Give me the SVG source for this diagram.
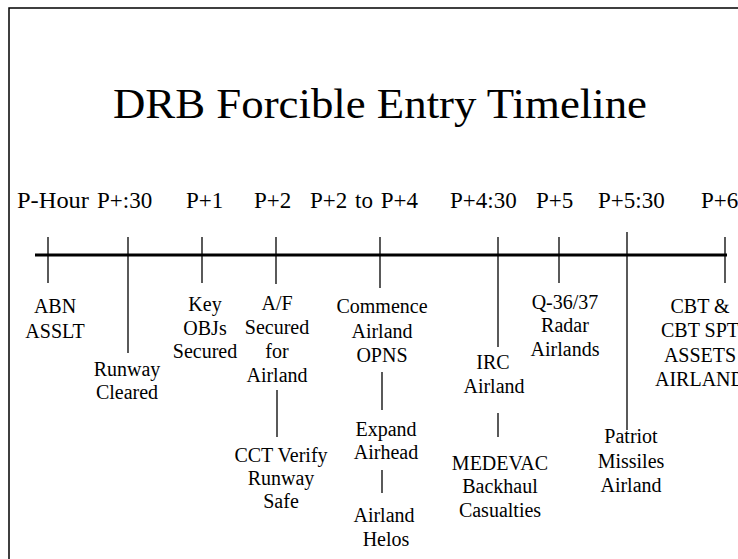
<svg xmlns="http://www.w3.org/2000/svg" width="738" height="559" viewBox="0 0 738 559">
<style>
  text { font-family: "Liberation Serif", "Times New Roman", serif; fill: #000; }
  .title { font-size: 42px; }
  .time { font-size: 23px; }
  .lbl { font-size: 20px; text-anchor: middle; }
  .frame { stroke: #000; stroke-width: 1.5; fill: none; }
  .axis { stroke: #000; stroke-width: 3; fill: none; }
  .tick { stroke: #000; stroke-width: 1.3; fill: none; }
</style>
<rect width="738" height="559" fill="#fff"/>
<g id="frame">
  <path class="frame" d="M9,559 V8 H738"/>
</g>
<text id="title" class="title" x="113" y="118" textLength="534" lengthAdjust="spacingAndGlyphs">DRB Forcible Entry Timeline</text>
<g id="times">
  <text class="time" x="17" y="208" textLength="72" lengthAdjust="spacingAndGlyphs">P-Hour</text>
  <text class="time" x="97" y="208">P+:30</text>
  <text class="time" x="186" y="208">P+1</text>
  <text class="time" x="254" y="208">P+2</text>
  <text class="time" x="310" y="208" word-spacing="2">P+2 to P+4</text>
  <text class="time" x="450" y="208">P+4:30</text>
  <text class="time" x="536" y="208">P+5</text>
  <text class="time" x="598" y="208">P+5:30</text>
  <text class="time" x="701" y="208">P+6</text>
</g>
<g id="connectors">
  <line class="axis" x1="35" y1="255" x2="727" y2="255"/>
  <line class="tick" x1="48" y1="237" x2="48" y2="283"/>
  <line class="tick" x1="128" y1="237" x2="128" y2="353"/>
  <line class="tick" x1="202" y1="237" x2="202" y2="283"/>
  <line class="tick" x1="276" y1="237" x2="276" y2="284"/>
  <line class="tick" x1="380" y1="237" x2="380" y2="288"/>
  <line class="tick" x1="498" y1="237" x2="498" y2="347"/>
  <line class="tick" x1="559" y1="237" x2="559" y2="283"/>
  <line class="tick" x1="627" y1="232" x2="627" y2="430"/>
  <line class="tick" x1="725" y1="237" x2="725" y2="283"/>
  <line class="tick" x1="277" y1="390" x2="277" y2="437"/>
  <line class="tick" x1="382" y1="372" x2="382" y2="410"/>
  <line class="tick" x1="382" y1="470" x2="382" y2="493"/>
  <line class="tick" x1="498" y1="413" x2="498" y2="437"/>
</g>
<g id="abn-asslt">
  <text class="lbl" x="55" y="313">ABN</text>
  <text class="lbl" x="55" y="338">ASSLT</text>
</g>
<g id="runway-cleared">
  <text class="lbl" x="127" y="376">Runway</text>
  <text class="lbl" x="127" y="399">Cleared</text>
</g>
<g id="key-objs">
  <text class="lbl" x="205" y="311">Key</text>
  <text class="lbl" x="205" y="335">OBJs</text>
  <text class="lbl" x="205" y="358">Secured</text>
</g>
<g id="af-secured">
  <text class="lbl" x="277" y="310">A/F</text>
  <text class="lbl" x="277" y="334">Secured</text>
  <text class="lbl" x="277" y="358">for</text>
  <text class="lbl" x="277" y="382">Airland</text>
</g>
<g id="cct-verify">
  <text class="lbl" x="281" y="462">CCT Verify</text>
  <text class="lbl" x="281" y="485">Runway</text>
  <text class="lbl" x="281" y="508">Safe</text>
</g>
<g id="commence-airland">
  <text class="lbl" x="382" y="313">Commence</text>
  <text class="lbl" x="382" y="338">Airland</text>
  <text class="lbl" x="382" y="362">OPNS</text>
</g>
<g id="expand-airhead">
  <text class="lbl" x="386" y="436">Expand</text>
  <text class="lbl" x="386" y="459">Airhead</text>
</g>
<g id="airland-helos">
  <text class="lbl" x="384" y="522">Airland</text>
  <text class="lbl" x="386" y="546">Helos</text>
</g>
<g id="irc-airland">
  <text class="lbl" x="493" y="369">IRC</text>
  <text class="lbl" x="494" y="393">Airland</text>
</g>
<g id="medevac">
  <text class="lbl" x="500" y="470">MEDEVAC</text>
  <text class="lbl" x="500" y="493">Backhaul</text>
  <text class="lbl" x="500" y="517">Casualties</text>
</g>
<g id="q36-radar">
  <text class="lbl" x="565" y="309">Q-36/37</text>
  <text class="lbl" x="565" y="332">Radar</text>
  <text class="lbl" x="565" y="356">Airlands</text>
</g>
<g id="patriot">
  <text class="lbl" x="631" y="443">Patriot</text>
  <text class="lbl" x="631" y="468">Missiles</text>
  <text class="lbl" x="631" y="492">Airland</text>
</g>
<g id="cbt-assets">
  <text class="lbl" x="700" y="313">CBT &amp;</text>
  <text class="lbl" x="700" y="337">CBT SPT</text>
  <text class="lbl" x="700" y="362">ASSETS</text>
  <text class="lbl" x="700" y="386">AIRLAND</text>
</g>
</svg>
